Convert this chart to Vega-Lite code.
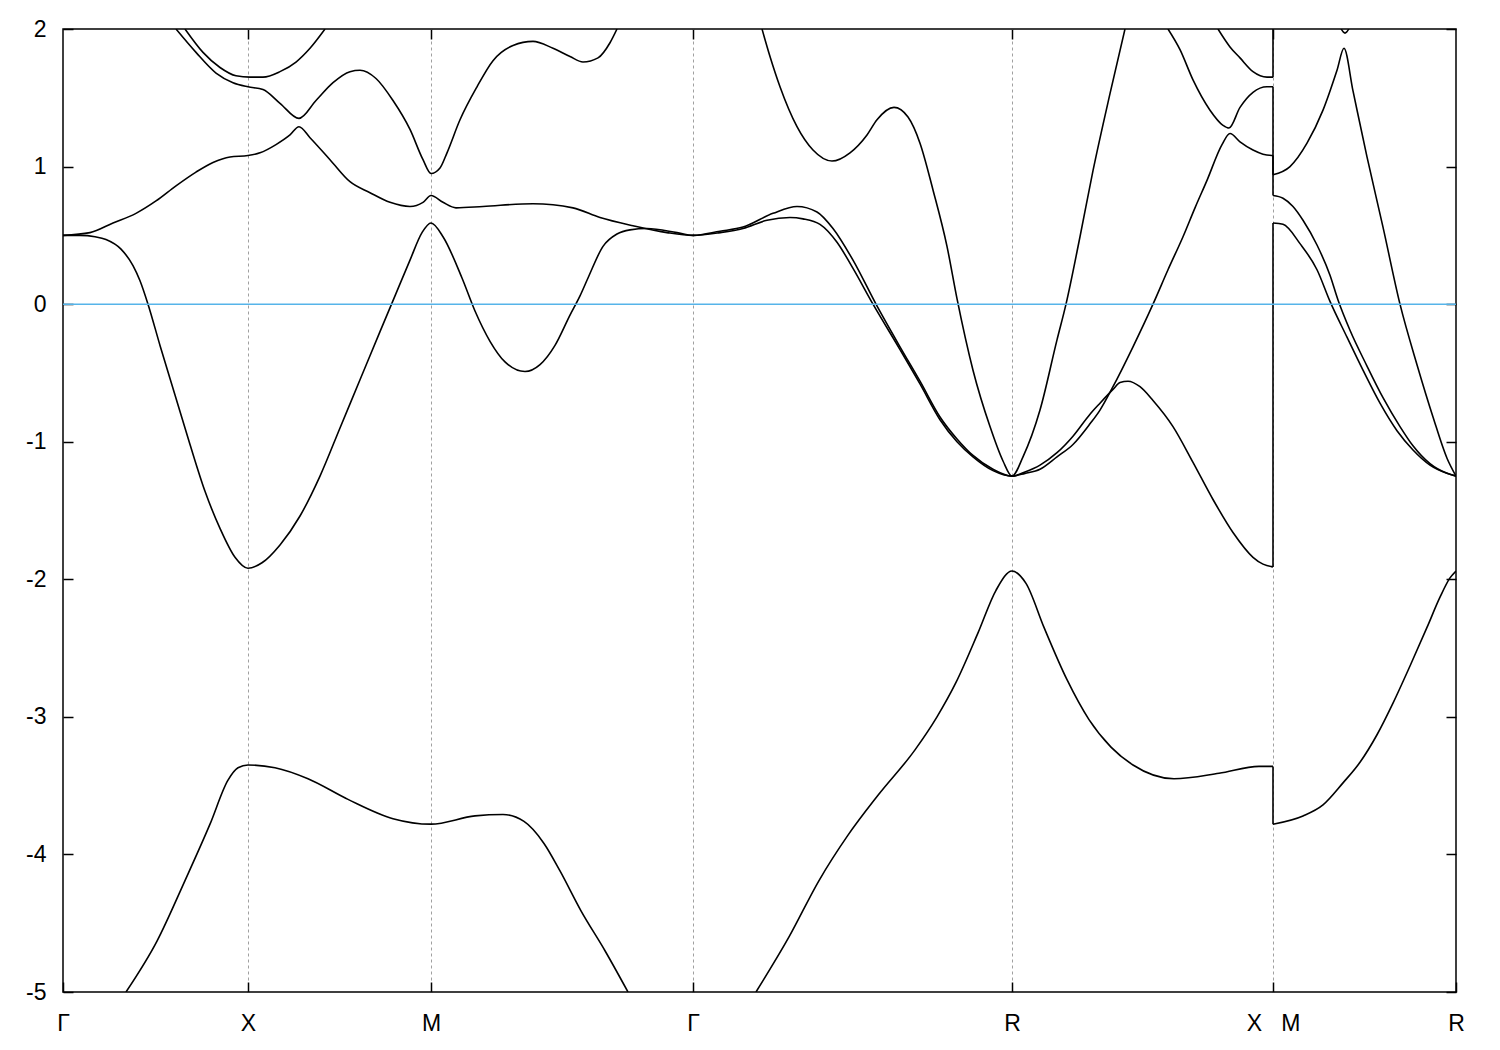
{
"$schema":"https://vega.github.io/schema/vega-lite/v6.json",
"width":1393,"height":963,
"autosize":"none",
"padding":{"left":63,"top":29,"right":44,"bottom":58},
"background":"white",
"config":{"view":{"stroke":"black","strokeWidth":1.5},"axis":{"labelFont":"Liberation Sans","labelFontSize":23,"labelColor":"black","tickColor":"black","tickWidth":1.5,"domain":false,"title":null,"labelFlush":false,"labelOverlap":false}},
"datasets":{"bands":[
{"band":"s1a","i":0,"k":0.63,"E":-5.0},{"band":"s1a","i":1,"k":0.94,"E":-4.63},{"band":"s1a","i":2,"k":1.22,"E":-4.19},{"band":"s1a","i":3,"k":1.47,"E":-3.78},{"band":"s1a","i":4,"k":1.65,"E":-3.46},{"band":"s1a","i":5,"k":1.75,"E":-3.37},{"band":"s1a","i":6,"k":1.85,"E":-3.35},{"band":"s1a","i":7,"k":2.12,"E":-3.37},{"band":"s1a","i":8,"k":2.45,"E":-3.45},{"band":"s1a","i":9,"k":2.85,"E":-3.60},{"band":"s1a","i":10,"k":3.30,"E":-3.74},{"band":"s1a","i":11,"k":3.68,"E":-3.78},{"band":"s1a","i":12,"k":4.12,"E":-3.72},{"band":"s1a","i":13,"k":4.40,"E":-3.71},{"band":"s1a","i":14,"k":4.61,"E":-3.76},{"band":"s1a","i":15,"k":4.81,"E":-3.92},{"band":"s1a","i":16,"k":4.97,"E":-4.12},{"band":"s1a","i":17,"k":5.18,"E":-4.41},{"band":"s1a","i":18,"k":5.42,"E":-4.70},{"band":"s1a","i":19,"k":5.65,"E":-5.0},
{"band":"s1b","i":0,"k":6.93,"E":-5.0},{"band":"s1b","i":1,"k":7.26,"E":-4.60},{"band":"s1b","i":2,"k":7.56,"E":-4.19},{"band":"s1b","i":3,"k":7.85,"E":-3.86},{"band":"s1b","i":4,"k":8.15,"E":-3.57},{"band":"s1b","i":5,"k":8.52,"E":-3.24},{"band":"s1b","i":6,"k":8.74,"E":-3.00},{"band":"s1b","i":7,"k":8.93,"E":-2.75},{"band":"s1b","i":8,"k":9.15,"E":-2.39},{"band":"s1b","i":9,"k":9.33,"E":-2.08},{"band":"s1b","i":10,"k":9.49,"E":-1.94},{"band":"s1b","i":11,"k":9.63,"E":-2.03},{"band":"s1b","i":12,"k":9.81,"E":-2.35},{"band":"s1b","i":13,"k":10.04,"E":-2.73},{"band":"s1b","i":14,"k":10.26,"E":-3.02},{"band":"s1b","i":15,"k":10.48,"E":-3.22},{"band":"s1b","i":16,"k":10.70,"E":-3.35},{"band":"s1b","i":17,"k":11.11,"E":-3.45},{"band":"s1b","i":18,"k":11.56,"E":-3.41},{"band":"s1b","i":19,"k":11.96,"E":-3.36},{"band":"s1b","i":20,"k":12.10,"E":-3.36},
{"band":"s1c","i":21,"k":12.10,"E":-3.78},{"band":"s1c","i":22,"k":12.40,"E":-3.72},{"band":"s1c","i":23,"k":12.60,"E":-3.64},{"band":"s1c","i":24,"k":12.80,"E":-3.48},{"band":"s1c","i":25,"k":12.97,"E":-3.33},{"band":"s1c","i":26,"k":13.14,"E":-3.13},{"band":"s1c","i":27,"k":13.30,"E":-2.90},{"band":"s1c","i":28,"k":13.47,"E":-2.63},{"band":"s1c","i":29,"k":13.64,"E":-2.35},{"band":"s1c","i":30,"k":13.77,"E":-2.13},{"band":"s1c","i":31,"k":13.87,"E":-1.99},{"band":"s1c","i":32,"k":13.93,"E":-1.94},
{"band":"s2","i":0,"k":0,"E":0.50},{"band":"s2","i":1,"k":0.17,"E":0.50},{"band":"s2","i":2,"k":0.32,"E":0.49},{"band":"s2","i":3,"k":0.43,"E":0.47},{"band":"s2","i":4,"k":0.58,"E":0.40},{"band":"s2","i":5,"k":0.70,"E":0.28},{"band":"s2","i":6,"k":0.77,"E":0.17},{"band":"s2","i":7,"k":0.85,"E":0.0},{"band":"s2","i":8,"k":0.97,"E":-0.30},{"band":"s2","i":9,"k":1.12,"E":-0.66},{"band":"s2","i":10,"k":1.27,"E":-1.02},{"band":"s2","i":11,"k":1.42,"E":-1.36},{"band":"s2","i":12,"k":1.57,"E":-1.63},{"band":"s2","i":13,"k":1.72,"E":-1.84},{"band":"s2","i":14,"k":1.85,"E":-1.92},{"band":"s2","i":15,"k":1.99,"E":-1.88},{"band":"s2","i":16,"k":2.17,"E":-1.75},{"band":"s2","i":17,"k":2.37,"E":-1.54},{"band":"s2","i":18,"k":2.57,"E":-1.25},{"band":"s2","i":19,"k":2.77,"E":-0.90},{"band":"s2","i":20,"k":2.97,"E":-0.55},{"band":"s2","i":21,"k":3.17,"E":-0.20},{"band":"s2","i":22,"k":3.32,"E":0.06},{"band":"s2","i":23,"k":3.47,"E":0.32},{"band":"s2","i":24,"k":3.59,"E":0.52},{"band":"s2","i":25,"k":3.68,"E":0.59},{"band":"s2","i":26,"k":3.80,"E":0.49},{"band":"s2","i":27,"k":3.99,"E":0.19},{"band":"s2","i":28,"k":4.12,"E":-0.05},{"band":"s2","i":29,"k":4.27,"E":-0.27},{"band":"s2","i":30,"k":4.42,"E":-0.42},{"band":"s2","i":31,"k":4.62,"E":-0.49},{"band":"s2","i":32,"k":4.77,"E":-0.44},{"band":"s2","i":33,"k":4.92,"E":-0.30},{"band":"s2","i":34,"k":5.07,"E":-0.08},{"band":"s2","i":35,"k":5.17,"E":0.06},{"band":"s2","i":36,"k":5.25,"E":0.19},{"band":"s2","i":37,"k":5.40,"E":0.42},{"band":"s2","i":38,"k":5.54,"E":0.51},{"band":"s2","i":39,"k":5.67,"E":0.54},{"band":"s2","i":40,"k":5.84,"E":0.55},{"band":"s2","i":41,"k":6.14,"E":0.52},{"band":"s2","i":42,"k":6.30,"E":0.50},{"band":"s2","i":43,"k":6.57,"E":0.52},{"band":"s2","i":44,"k":6.80,"E":0.55},{"band":"s2","i":45,"k":7.04,"E":0.61},{"band":"s2","i":46,"k":7.27,"E":0.63},{"band":"s2","i":47,"k":7.40,"E":0.62},{"band":"s2","i":48,"k":7.57,"E":0.58},{"band":"s2","i":49,"k":7.74,"E":0.45},{"band":"s2","i":50,"k":7.90,"E":0.26},{"band":"s2","i":51,"k":8.10,"E":0.0},{"band":"s2","i":52,"k":8.37,"E":-0.33},{"band":"s2","i":53,"k":8.57,"E":-0.58},{"band":"s2","i":54,"k":8.77,"E":-0.84},{"band":"s2","i":55,"k":8.94,"E":-1.00},{"band":"s2","i":56,"k":9.10,"E":-1.11},{"band":"s2","i":57,"k":9.30,"E":-1.21},{"band":"s2","i":58,"k":9.49,"E":-1.25},{"band":"s2","i":59,"k":9.62,"E":-1.22},{"band":"s2","i":60,"k":9.77,"E":-1.17},{"band":"s2","i":61,"k":9.94,"E":-1.08},{"band":"s2","i":62,"k":10.10,"E":-0.96},{"band":"s2","i":63,"k":10.27,"E":-0.80},{"band":"s2","i":64,"k":10.37,"E":-0.72},{"band":"s2","i":65,"k":10.50,"E":-0.62},{"band":"s2","i":66,"k":10.57,"E":-0.57},{"band":"s2","i":67,"k":10.65,"E":-0.56},{"band":"s2","i":68,"k":10.77,"E":-0.60},{"band":"s2","i":69,"k":10.90,"E":-0.70},{"band":"s2","i":70,"k":11.10,"E":-0.89},{"band":"s2","i":71,"k":11.30,"E":-1.15},{"band":"s2","i":72,"k":11.50,"E":-1.42},{"band":"s2","i":73,"k":11.70,"E":-1.66},{"band":"s2","i":74,"k":11.90,"E":-1.84},{"band":"s2","i":75,"k":12.00,"E":-1.89},{"band":"s2","i":76,"k":12.10,"E":-1.91},
{"band":"s2m","i":77,"k":12.10,"E":0.59},{"band":"s2m","i":78,"k":12.20,"E":0.58},{"band":"s2m","i":79,"k":12.37,"E":0.44},{"band":"s2m","i":80,"k":12.54,"E":0.25},{"band":"s2m","i":81,"k":12.67,"E":0.02},{"band":"s2m","i":82,"k":12.84,"E":-0.24},{"band":"s2m","i":83,"k":13.00,"E":-0.48},{"band":"s2m","i":84,"k":13.17,"E":-0.72},{"band":"s2m","i":85,"k":13.34,"E":-0.92},{"band":"s2m","i":86,"k":13.50,"E":-1.06},{"band":"s2m","i":87,"k":13.67,"E":-1.17},{"band":"s2m","i":88,"k":13.84,"E":-1.23},{"band":"s2m","i":89,"k":13.93,"E":-1.25},
{"band":"s3","i":0,"k":0,"E":0.50},{"band":"s3","i":1,"k":0.27,"E":0.52},{"band":"s3","i":2,"k":0.50,"E":0.59},{"band":"s3","i":3,"k":0.73,"E":0.66},{"band":"s3","i":4,"k":0.93,"E":0.75},{"band":"s3","i":5,"k":1.13,"E":0.86},{"band":"s3","i":6,"k":1.33,"E":0.96},{"band":"s3","i":7,"k":1.50,"E":1.03},{"band":"s3","i":8,"k":1.67,"E":1.07},{"band":"s3","i":9,"k":1.85,"E":1.08},{"band":"s3","i":10,"k":1.97,"E":1.10},{"band":"s3","i":11,"k":2.13,"E":1.16},{"band":"s3","i":12,"k":2.27,"E":1.23},{"band":"s3","i":13,"k":2.36,"E":1.29},{"band":"s3","i":14,"k":2.47,"E":1.21},{"band":"s3","i":15,"k":2.67,"E":1.05},{"band":"s3","i":16,"k":2.87,"E":0.89},{"band":"s3","i":17,"k":3.07,"E":0.81},{"band":"s3","i":18,"k":3.27,"E":0.74},{"band":"s3","i":19,"k":3.47,"E":0.71},{"band":"s3","i":20,"k":3.60,"E":0.74},{"band":"s3","i":21,"k":3.68,"E":0.79},{"band":"s3","i":22,"k":3.80,"E":0.74},{"band":"s3","i":23,"k":3.93,"E":0.70},{"band":"s3","i":24,"k":4.20,"E":0.71},{"band":"s3","i":25,"k":4.70,"E":0.73},{"band":"s3","i":26,"k":5.10,"E":0.70},{"band":"s3","i":27,"k":5.37,"E":0.63},{"band":"s3","i":28,"k":5.70,"E":0.57},{"band":"s3","i":29,"k":6.04,"E":0.52},{"band":"s3","i":30,"k":6.30,"E":0.50},{"band":"s3","i":31,"k":6.57,"E":0.53},{"band":"s3","i":32,"k":6.80,"E":0.56},{"band":"s3","i":33,"k":7.10,"E":0.66},{"band":"s3","i":34,"k":7.34,"E":0.71},{"band":"s3","i":35,"k":7.54,"E":0.67},{"band":"s3","i":36,"k":7.70,"E":0.55},{"band":"s3","i":37,"k":7.90,"E":0.32},{"band":"s3","i":38,"k":8.13,"E":0.0},{"band":"s3","i":39,"k":8.37,"E":-0.31},{"band":"s3","i":40,"k":8.57,"E":-0.56},{"band":"s3","i":41,"k":8.77,"E":-0.82},{"band":"s3","i":42,"k":8.94,"E":-0.98},{"band":"s3","i":43,"k":9.10,"E":-1.10},{"band":"s3","i":44,"k":9.30,"E":-1.20},{"band":"s3","i":45,"k":9.49,"E":-1.25},{"band":"s3","i":46,"k":9.62,"E":-1.23},{"band":"s3","i":47,"k":9.77,"E":-1.20},{"band":"s3","i":48,"k":9.94,"E":-1.11},{"band":"s3","i":49,"k":10.10,"E":-1.02},{"band":"s3","i":50,"k":10.27,"E":-0.87},{"band":"s3","i":51,"k":10.37,"E":-0.77},{"band":"s3","i":52,"k":10.50,"E":-0.60},{"band":"s3","i":53,"k":10.70,"E":-0.31},{"band":"s3","i":54,"k":10.90,"E":0.0},{"band":"s3","i":55,"k":11.05,"E":0.25},{"band":"s3","i":56,"k":11.20,"E":0.49},{"band":"s3","i":57,"k":11.32,"E":0.70},{"band":"s3","i":58,"k":11.44,"E":0.90},{"band":"s3","i":59,"k":11.59,"E":1.16},{"band":"s3","i":60,"k":11.67,"E":1.24},{"band":"s3","i":61,"k":11.77,"E":1.18},{"band":"s3","i":62,"k":11.90,"E":1.12},{"band":"s3","i":63,"k":12.00,"E":1.09},{"band":"s3","i":64,"k":12.10,"E":1.08},
{"band":"s3m","i":65,"k":12.10,"E":0.79},{"band":"s3m","i":66,"k":12.20,"E":0.77},{"band":"s3m","i":67,"k":12.30,"E":0.71},{"band":"s3m","i":68,"k":12.40,"E":0.61},{"band":"s3m","i":69,"k":12.54,"E":0.43},{"band":"s3m","i":70,"k":12.67,"E":0.21},{"band":"s3m","i":71,"k":12.75,"E":0.03},{"band":"s3m","i":72,"k":12.87,"E":-0.19},{"band":"s3m","i":73,"k":13.04,"E":-0.45},{"band":"s3m","i":74,"k":13.20,"E":-0.68},{"band":"s3m","i":75,"k":13.37,"E":-0.89},{"band":"s3m","i":76,"k":13.50,"E":-1.03},{"band":"s3m","i":77,"k":13.67,"E":-1.16},{"band":"s3m","i":78,"k":13.84,"E":-1.23},{"band":"s3m","i":79,"k":13.93,"E":-1.25},
{"band":"s4a","i":0,"k":1.13,"E":2.0},{"band":"s4a","i":1,"k":1.33,"E":1.83},{"band":"s4a","i":2,"k":1.53,"E":1.68},{"band":"s4a","i":3,"k":1.70,"E":1.61},{"band":"s4a","i":4,"k":1.85,"E":1.58},{"band":"s4a","i":5,"k":2.00,"E":1.56},{"band":"s4a","i":6,"k":2.17,"E":1.46},{"band":"s4a","i":7,"k":2.36,"E":1.35},{"band":"s4a","i":8,"k":2.53,"E":1.48},{"band":"s4a","i":9,"k":2.70,"E":1.61},{"band":"s4a","i":10,"k":2.87,"E":1.69},{"band":"s4a","i":11,"k":2.97,"E":1.70},{"band":"s4a","i":12,"k":3.13,"E":1.64},{"band":"s4a","i":13,"k":3.30,"E":1.48},{"band":"s4a","i":14,"k":3.47,"E":1.27},{"band":"s4a","i":15,"k":3.60,"E":1.05},{"band":"s4a","i":16,"k":3.68,"E":0.95},{"band":"s4a","i":17,"k":3.77,"E":0.99},{"band":"s4a","i":18,"k":3.84,"E":1.10},{"band":"s4a","i":19,"k":3.97,"E":1.34},{"band":"s4a","i":20,"k":4.14,"E":1.58},{"band":"s4a","i":21,"k":4.30,"E":1.77},{"band":"s4a","i":22,"k":4.50,"E":1.88},{"band":"s4a","i":23,"k":4.70,"E":1.91},{"band":"s4a","i":24,"k":4.90,"E":1.86},{"band":"s4a","i":25,"k":5.07,"E":1.80},{"band":"s4a","i":26,"k":5.20,"E":1.76},{"band":"s4a","i":27,"k":5.35,"E":1.79},{"band":"s4a","i":28,"k":5.47,"E":1.90},{"band":"s4a","i":29,"k":5.54,"E":2.0},
{"band":"s5a","i":0,"k":1.22,"E":2.0},{"band":"s5a","i":1,"k":1.40,"E":1.83},{"band":"s5a","i":2,"k":1.57,"E":1.72},{"band":"s5a","i":3,"k":1.73,"E":1.66},{"band":"s5a","i":4,"k":1.87,"E":1.65},{"band":"s5a","i":5,"k":2.00,"E":1.65},{"band":"s5a","i":6,"k":2.17,"E":1.69},{"band":"s5a","i":7,"k":2.33,"E":1.76},{"band":"s5a","i":8,"k":2.47,"E":1.86},{"band":"s5a","i":9,"k":2.62,"E":2.0},
{"band":"s4b","i":0,"k":6.99,"E":2.0},{"band":"s4b","i":1,"k":7.07,"E":1.80},{"band":"s4b","i":2,"k":7.17,"E":1.58},{"band":"s4b","i":3,"k":7.34,"E":1.29},{"band":"s4b","i":4,"k":7.50,"E":1.12},{"band":"s4b","i":5,"k":7.69,"E":1.04},{"band":"s4b","i":6,"k":7.87,"E":1.10},{"band":"s4b","i":7,"k":8.04,"E":1.23},{"band":"s4b","i":8,"k":8.14,"E":1.34},{"band":"s4b","i":9,"k":8.31,"E":1.43},{"band":"s4b","i":10,"k":8.45,"E":1.36},{"band":"s4b","i":11,"k":8.57,"E":1.17},{"band":"s4b","i":12,"k":8.70,"E":0.83},{"band":"s4b","i":13,"k":8.84,"E":0.42},{"band":"s4b","i":14,"k":8.94,"E":0.04},{"band":"s4b","i":15,"k":9.10,"E":-0.48},{"band":"s4b","i":16,"k":9.27,"E":-0.89},{"band":"s4b","i":17,"k":9.40,"E":-1.14},{"band":"s4b","i":18,"k":9.49,"E":-1.25},{"band":"s4b","i":19,"k":9.60,"E":-1.11},{"band":"s4b","i":20,"k":9.77,"E":-0.77},{"band":"s4b","i":21,"k":9.94,"E":-0.26},{"band":"s4b","i":22,"k":10.03,"E":0.0},{"band":"s4b","i":23,"k":10.17,"E":0.49},{"band":"s4b","i":24,"k":10.30,"E":0.97},{"band":"s4b","i":25,"k":10.47,"E":1.53},{"band":"s4b","i":26,"k":10.62,"E":2.0},
{"band":"s4c","i":0,"k":11.05,"E":2.0},{"band":"s4c","i":1,"k":11.17,"E":1.85},{"band":"s4c","i":2,"k":11.30,"E":1.63},{"band":"s4c","i":3,"k":11.47,"E":1.41},{"band":"s4c","i":4,"k":11.60,"E":1.30},{"band":"s4c","i":5,"k":11.66,"E":1.28},{"band":"s4c","i":6,"k":11.77,"E":1.43},{"band":"s4c","i":7,"k":11.90,"E":1.54},{"band":"s4c","i":8,"k":12.04,"E":1.58},{"band":"s4c","i":9,"k":12.10,"E":1.58},
{"band":"s4m","i":10,"k":12.10,"E":0.94},{"band":"s4m","i":11,"k":12.27,"E":1.00},{"band":"s4m","i":12,"k":12.44,"E":1.17},{"band":"s4m","i":13,"k":12.60,"E":1.41},{"band":"s4m","i":14,"k":12.74,"E":1.70},{"band":"s4m","i":15,"k":12.81,"E":1.86},{"band":"s4m","i":16,"k":12.90,"E":1.55},{"band":"s4m","i":17,"k":13.04,"E":1.07},{"band":"s4m","i":18,"k":13.20,"E":0.56},{"band":"s4m","i":19,"k":13.37,"E":0.0},{"band":"s4m","i":20,"k":13.54,"E":-0.44},{"band":"s4m","i":21,"k":13.70,"E":-0.82},{"band":"s4m","i":22,"k":13.84,"E":-1.12},{"band":"s4m","i":23,"k":13.93,"E":-1.25},
{"band":"s5b","i":0,"k":11.55,"E":2.0},{"band":"s5b","i":1,"k":11.67,"E":1.87},{"band":"s5b","i":2,"k":11.77,"E":1.79},{"band":"s5b","i":3,"k":11.90,"E":1.69},{"band":"s5b","i":4,"k":12.04,"E":1.65},{"band":"s5b","i":5,"k":12.10,"E":1.65},
{"band":"s5c","i":0,"k":12.75,"E":2.05},{"band":"s5c","i":1,"k":12.82,"E":1.97},{"band":"s5c","i":2,"k":12.89,"E":2.05}
],
"jumps":[
{"band":"j1","i":0,"k":12.10,"E":-3.36},{"band":"j1","i":1,"k":12.10,"E":-3.78},
{"band":"j2","i":0,"k":12.10,"E":-1.91},{"band":"j2","i":1,"k":12.10,"E":0.59},
{"band":"j3","i":0,"k":12.10,"E":1.08},{"band":"j3","i":1,"k":12.10,"E":0.79},
{"band":"j4","i":0,"k":12.10,"E":1.58},{"band":"j4","i":1,"k":12.10,"E":0.94},
{"band":"j5","i":0,"k":12.10,"E":1.65},{"band":"j5","i":1,"k":12.10,"E":2.05}
]},
"layer":[
{"data":{"values":[{"k":1.85}]},"mark":{"type":"rule","opacity":0},"encoding":{"x":{"field":"k","type":"quantitative","scale":{"domain":[0,13.93],"nice":false,"zero":false},"axis":{"orient":"top","values":[1.85,3.68,6.30,9.49,12.10],"labels":false,"tickSize":-10,"grid":true,"gridColor":"#a0a0a0","gridDash":[3,3],"gridWidth":1}}}},
{"data":{"name":"bands"},"mark":{"type":"line","clip":true,"color":"black","strokeWidth":1.6,"interpolate":"monotone"},"encoding":{"x":{"field":"k","type":"quantitative","scale":{"domain":[0,13.93],"nice":false,"zero":false},"axis":{"orient":"bottom","values":[0,1.85,3.68,6.30,9.49,12.10,13.93],"tickSize":-10,"grid":false,"labelPadding":30,"labelFontSize":23,"labelExpr":"datum.value < 1 ? 'Γ' : datum.value < 2 ? 'X' : datum.value < 4 ? 'M' : datum.value < 7 ? 'Γ' : datum.value < 10 ? 'R' : datum.value < 13 ? 'X\u00a0\u00a0\u00a0M' : 'R'"}},"y":{"field":"E","type":"quantitative","scale":{"domain":[-5,2],"nice":false,"zero":false},"axis":{"orient":"left","values":[-5,-4,-3,-2,-1,0,1,2],"tickSize":-10,"grid":false,"labelPadding":27,"labelFontSize":23,"labelExpr":"toString(datum.value)"}},"detail":{"field":"band"},"order":{"field":"i"}}},
{"data":{"name":"jumps"},"mark":{"type":"line","clip":true,"color":"black","strokeWidth":1.6},"encoding":{"x":{"field":"k","type":"quantitative","axis":null},"y":{"field":"E","type":"quantitative","axis":null},"detail":{"field":"band"},"order":{"field":"i"}}},
{"data":{"values":[{"E":0}]},"mark":{"type":"rule","color":"#56b4e9","strokeWidth":1.5},"encoding":{"y":{"field":"E","type":"quantitative","scale":{"domain":[-5,2],"nice":false,"zero":false},"axis":{"orient":"right","values":[-5,-4,-3,-2,-1,0,1,2],"labels":false,"tickSize":-10,"grid":false}}}}
],
"resolve":{"axis":{"x":"independent","y":"independent"}}
}
